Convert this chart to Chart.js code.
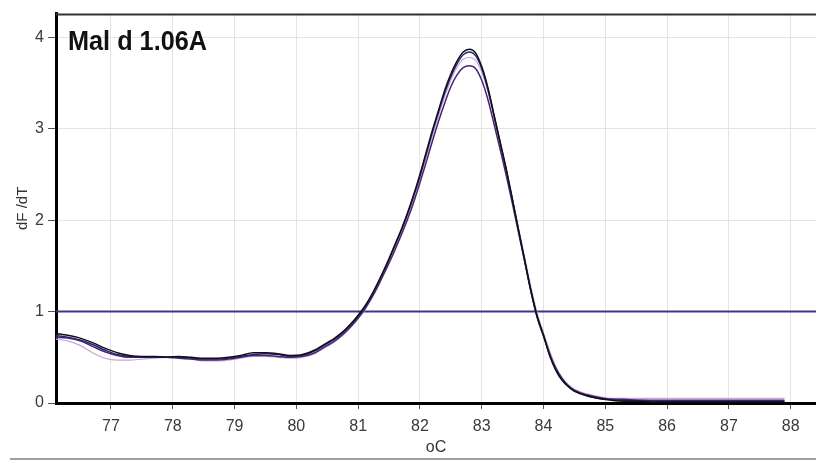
<!DOCTYPE html>
<html>
<head>
<meta charset="utf-8">
<script src="https://cdn.jsdelivr.net/npm/chart.js@4"></script>
<style>
  html, body { margin: 0; padding: 0; background: #fff; }
  #wrap { position: relative; width: 816px; height: 461px; }
</style>
</head>
<body>
<div id="wrap"><canvas id="melt"></canvas></div>
<script>
// melt curve derivative, one row per well
const chartTitle = 'Mal d 1.06A';
const temps = [76.1, 76.3, 76.5, 76.7, 76.9, 77.1, 77.3, 77.5, 77.7, 77.9,
  78.1, 78.3, 78.5, 78.7, 78.9, 79.1, 79.3, 79.5, 79.7, 79.9,
  80.1, 80.3,
  80.4, 80.5, 80.6, 80.7, 80.8, 80.9, 81.0, 81.1, 81.2, 81.3,
  81.4, 81.5, 81.6, 81.7, 81.8, 81.9, 82.0, 82.1, 82.2, 82.3,
  82.4, 82.5, 82.6, 82.7, 82.8, 82.9, 83.0, 83.1, 83.2, 83.3,
  83.4, 83.5, 83.6, 83.7, 83.8, 83.9, 84.0, 84.1, 84.2, 84.3,
  84.4, 84.5, 84.7, 84.9, 85.1, 85.3, 85.5,
  85.9, 86.3, 86.7, 87.1, 87.5, 87.9];

const wellA = [0.76, 0.74, 0.71, 0.66, 0.60, 0.55, 0.52, 0.51, 0.51, 0.50,
  0.51, 0.50, 0.49, 0.49, 0.50, 0.52, 0.55, 0.55, 0.54, 0.52,
  0.53, 0.58,
  0.62, 0.66, 0.70, 0.75, 0.81, 0.88, 0.96, 1.05, 1.16, 1.29,
  1.43, 1.58, 1.74, 1.90, 2.08, 2.28, 2.50, 2.74, 2.98, 3.20,
  3.42, 3.60, 3.74, 3.84, 3.87, 3.83, 3.68, 3.45, 3.15, 2.85,
  2.55, 2.22, 1.88, 1.55, 1.22, 0.94, 0.74, 0.52, 0.36, 0.25,
  0.18, 0.13, 0.08, 0.05, 0.03, 0.02, 0.02,
  0.01, 0.01, 0.01, 0.01, 0.01, 0.01];

const wellB = [0.74, 0.72, 0.69, 0.64, 0.58, 0.53, 0.51, 0.50, 0.50, 0.50,
  0.50, 0.49, 0.48, 0.48, 0.49, 0.51, 0.53, 0.54, 0.53, 0.51,
  0.52, 0.57,
  0.61, 0.65, 0.69, 0.74, 0.80, 0.87, 0.95, 1.04, 1.15, 1.28,
  1.42, 1.57, 1.73, 1.89, 2.07, 2.27, 2.48, 2.72, 2.96, 3.18,
  3.39, 3.57, 3.71, 3.81, 3.84, 3.80, 3.66, 3.43, 3.14, 2.84,
  2.54, 2.21, 1.87, 1.54, 1.21, 0.93, 0.73, 0.52, 0.36, 0.25,
  0.18, 0.13, 0.08, 0.05, 0.04, 0.03, 0.03,
  0.02, 0.02, 0.02, 0.02, 0.02, 0.02];

const wellC = [0.72, 0.71, 0.68, 0.62, 0.56, 0.52, 0.50, 0.50, 0.50, 0.50,
  0.49, 0.48, 0.47, 0.47, 0.48, 0.50, 0.52, 0.52, 0.51, 0.50,
  0.51, 0.55,
  0.59, 0.63, 0.67, 0.72, 0.78, 0.85, 0.93, 1.02, 1.13, 1.25,
  1.39, 1.53, 1.68, 1.84, 2.01, 2.20, 2.41, 2.63, 2.86, 3.08,
  3.28, 3.46, 3.59, 3.67, 3.69, 3.66, 3.53, 3.32, 3.05, 2.77,
  2.48, 2.17, 1.85, 1.53, 1.21, 0.94, 0.74, 0.54, 0.38, 0.27,
  0.19, 0.14, 0.09, 0.06, 0.04, 0.04, 0.03,
  0.03, 0.03, 0.03, 0.03, 0.03, 0.03];

const wellD = [0.70, 0.68, 0.63, 0.55, 0.49, 0.47, 0.47, 0.48, 0.49, 0.50,
  0.49, 0.48, 0.46, 0.46, 0.47, 0.49, 0.51, 0.51, 0.50, 0.49,
  0.50, 0.54,
  0.58, 0.62, 0.66, 0.71, 0.77, 0.84, 0.92, 1.01, 1.12, 1.25,
  1.39, 1.54, 1.70, 1.86, 2.04, 2.24, 2.45, 2.68, 2.92, 3.14,
  3.35, 3.53, 3.67, 3.76, 3.78, 3.75, 3.62, 3.41, 3.12, 2.83,
  2.53, 2.22, 1.90, 1.58, 1.26, 0.98, 0.77, 0.57, 0.40, 0.28,
  0.20, 0.15, 0.10, 0.07, 0.05, 0.05, 0.05,
  0.05, 0.05, 0.05, 0.05, 0.05, 0.05];

const threshold = 1;
const xTicks = [77, 78, 79, 80, 81, 82, 83, 84, 85, 86, 87, 88];
const yTicks = [0, 1, 2, 3, 4];
const xMin = 76.11, xMax = 88.41;
const yMin = 0, yMax = 4.26;

const pts = (vals) => vals.map((v, i) => ({ x: temps[i], y: v }));

function curve(vals, color, width) {
  return {
    data: pts(vals),
    borderColor: color,
    borderWidth: width,
    pointRadius: 0,
    cubicInterpolationMode: 'monotone',
    fill: false
  };
}

// frame, title and the grey rule under the plot
const decor = {
  id: 'decor',
  afterDraw(chart) {
    const { ctx, chartArea } = chart;
    ctx.save();
    ctx.strokeStyle = '#333';
    ctx.lineWidth = 2;
    ctx.beginPath();
    ctx.moveTo(chartArea.left, chartArea.top + 1);
    ctx.lineTo(chartArea.right, chartArea.top + 1);
    ctx.stroke();

    ctx.fillStyle = '#111';
    ctx.font = 'bold 27px "Liberation Sans", Arial, sans-serif';
    ctx.textBaseline = 'alphabetic';
    ctx.fillText(chartTitle, chartArea.left + 12, 50, 139);

    ctx.fillStyle = '#a0a0a0';
    ctx.fillRect(10, 458, chart.width - 10, 2);
    ctx.restore();
  }
};

const tickFont = { family: '"Liberation Sans", Arial, sans-serif', size: 16 };

new Chart(document.getElementById('melt'), {
  type: 'line',
  data: {
    datasets: [
      Object.assign(curve(wellD, '#c9a6d8', 1.2), { order: 4 }),
      Object.assign(curve(wellC, '#4a2470', 1.5), { order: 3 }),
      Object.assign(curve(wellB, '#2a2380', 1.5), { order: 2 }),
      Object.assign(curve(wellA, '#111111', 1.5), { order: 1 }),
      {
        data: [{ x: xMin, y: threshold }, { x: xMax, y: threshold }],
        borderColor: '#383888',
        borderWidth: 2,
        pointRadius: 0,
        order: 5
      }
    ]
  },
  options: {
    responsive: true,
    maintainAspectRatio: false,
    animation: false,
    layout: { padding: { left: 0, right: 0, top: 12, bottom: 0 } },
    plugins: {
      legend: { display: false },
      tooltip: { enabled: false }
    },
    scales: {
      x: {
        type: 'linear',
        min: xMin,
        max: xMax,
        afterBuildTicks: (scale) => { scale.ticks = xTicks.map(v => ({ value: v })); },
        afterFit: (scale) => { scale.height = 58; },
        grid: { color: '#e4e4e4', lineWidth: 1, tickLength: 6, tickColor: '#555' },
        border: { color: '#000', width: 3 },
        ticks: { color: '#3a3a3a', font: tickFont, padding: 8, maxRotation: 0 },
        title: { display: true, text: 'oC', color: '#333', font: tickFont, padding: { top: 0, bottom: 4 } }
      },
      y: {
        min: yMin,
        max: yMax,
        afterBuildTicks: (scale) => { scale.ticks = yTicks.map(v => ({ value: v })); },
        afterFit: (scale) => { scale.width = 56; },
        grid: { color: '#e4e4e4', lineWidth: 1, tickLength: 8, tickColor: '#555' },
        border: { color: '#000', width: 3 },
        ticks: { color: '#3a3a3a', font: tickFont, padding: 4 },
        title: { display: true, text: 'dF /dT', color: '#333', font: { family: tickFont.family, size: 15 }, padding: { top: 14, bottom: 0 } }
      }
    }
  },
  plugins: [decor]
});
</script>
</body>
</html>
